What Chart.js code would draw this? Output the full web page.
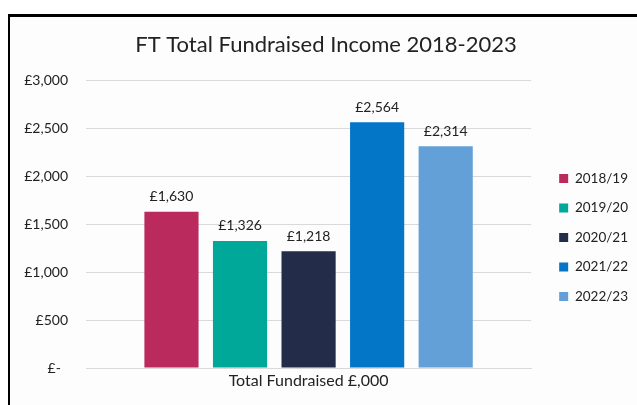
<!DOCTYPE html>
<html>
<head>
<meta charset="utf-8">
<script src="https://cdn.jsdelivr.net/npm/chart.js@4"></script>
<style>
  html, body { margin: 0; padding: 0; background: #ffffff; }
  #frame { position: absolute; left: 8px; top: 14px; width: 627px; height: 388px;
           border-left: 2px solid #000; border-top: 3px solid #000; background: #fdfdfd; }
  #c { display: block; }
</style>
</head>
<body>
<div id="frame"><canvas id="c" width="627" height="388"></canvas></div>
<script>
const categories = ["Total Fundraised £,000"];
const seriesNames = ["2018/19", "2019/20", "2020/21", "2021/22", "2022/23"];
const seriesValues = [1630, 1326, 1218, 2564, 2314];
const seriesColors = ["#BA2A5C", "#00A89A", "#232D49", "#0376C8", "#62A0D7"];
const yTicks = [0, 500, 1000, 1500, 2000, 2500, 3000];

const FONT = "Lato, 'Open Sans', sans-serif";
function fmt(v) { return v === 0 ? "£-  " : "£" + v.toLocaleString("en-GB"); }

const labelPlugin = {
  id: "barLabels",
  afterDatasetsDraw(chart) {
    const ctx = chart.ctx;
    ctx.save();
    ctx.font = "14px " + FONT;
    ctx.fillStyle = "#222";
    ctx.textAlign = "center";
    ctx.textBaseline = "bottom";
    chart.data.datasets.forEach((ds, i) => {
      const meta = chart.getDatasetMeta(i);
      meta.data.forEach((bar, j) => {
        ctx.fillText(fmt(ds.data[j]), bar.x, bar.y - 8);
      });
    });
    ctx.restore();
  }
};

new Chart(document.getElementById("c"), {
  type: "bar",
  data: {
    labels: categories,
    datasets: seriesNames.map((n, i) => ({
      label: n,
      data: [seriesValues[i]],
      backgroundColor: seriesColors[i],
      borderWidth: 0,
      categoryPercentage: 0.77,
      barPercentage: 0.79
    }))
  },
  options: {
    responsive: false,
    animation: false,
    layout: { padding: { left: 4, right: -1, top: 0, bottom: 0 } },
    plugins: {
      title: {
        display: true,
        text: "FT Total Fundraised Income 2018-2023",
        color: "#222",
        font: { family: FONT, size: 22, weight: "normal" },
        padding: { top: 15, bottom: 22 }
      },
      legend: {
        position: "right",
        fullSize: false,
        title: { display: true, text: " ", padding: { top: 0, bottom: 10 }, font: { size: 14 } },
        labels: {
          boxWidth: 9, boxHeight: 9, padding: 16,
          color: "#222",
          font: { family: FONT, size: 13.5 }
        }
      },
      tooltip: { enabled: false }
    },
    scales: {
      x: {
        grid: { display: false, drawTicks: false },
        border: { display: true, color: "#d9d9d9" },
        ticks: { color: "#222", font: { family: FONT, size: 16 }, padding: 3 },
        afterFit(s) { s.height = 37; }
      },
      y: {
        min: 0, max: 3000,
        afterBuildTicks(axis) { axis.ticks = yTicks.map(v => ({ value: v })); },
        grid: { color: "#d9d9d9", drawTicks: false },
        border: { display: false },
        ticks: { color: "#222", font: { family: FONT, size: 14 }, padding: 18, callback: v => fmt(v) },
        afterFit(s) { s.width = 72; }
      },
      yRight: {
        position: "right",
        display: true,
        grid: { display: false, drawTicks: false },
        border: { display: false },
        ticks: { display: false },
        afterFit(s) { s.width = 12; }
      }
    }
  },
  plugins: [labelPlugin]
});
</script>
</body>
</html>
